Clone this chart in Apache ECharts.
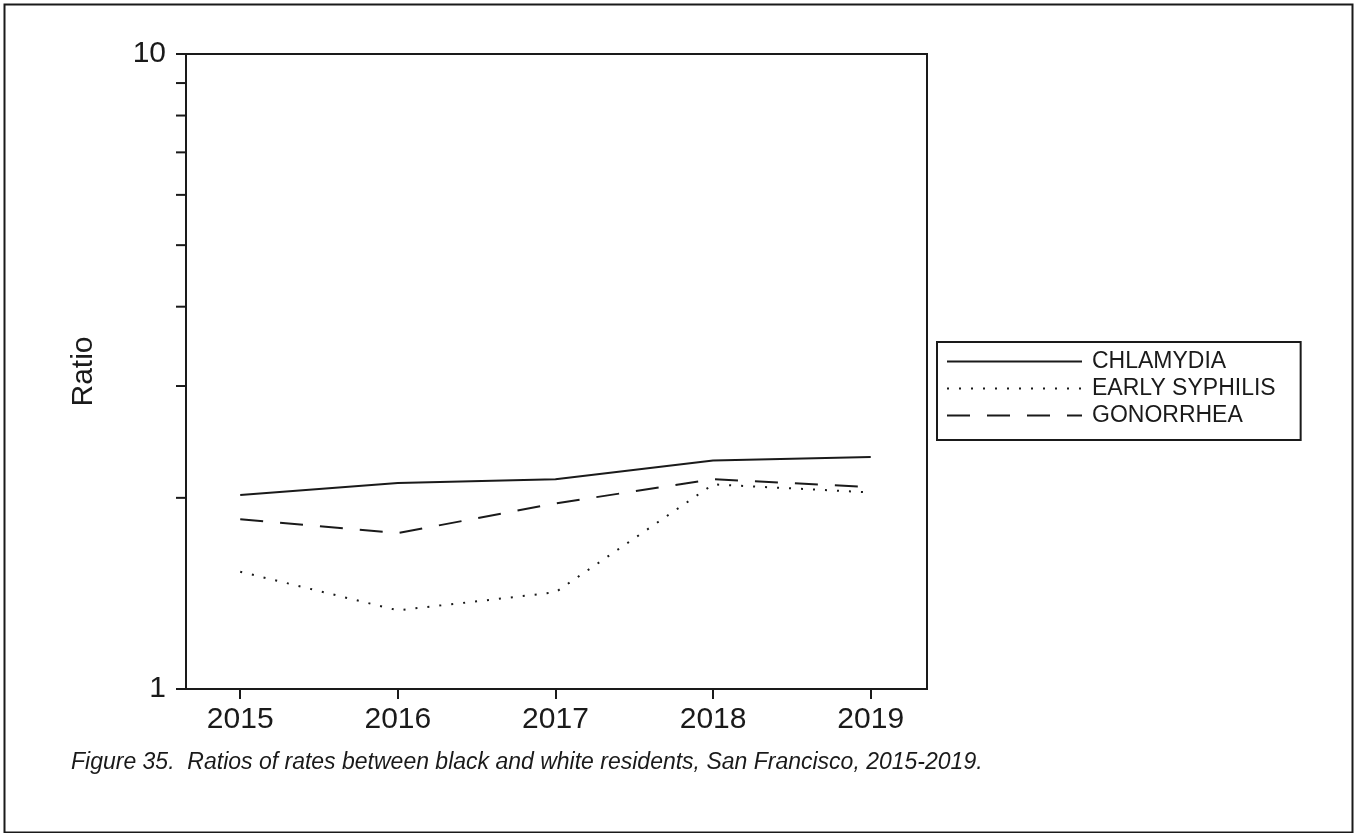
<!DOCTYPE html>
<html>
<head>
<meta charset="utf-8">
<script src="https://cdn.jsdelivr.net/npm/echarts@6/dist/echarts.min.js"></script>
<style>
html,body{margin:0;padding:0;background:#fff;}
#c{width:1356px;height:833px;}
</style>
</head>
<body>
<div id="c"></div>
<script>
const years = [2015, 2016, 2017, 2018, 2019];
const chlamydia = [2.02, 2.11, 2.14, 2.29, 2.32];
const earlySyphilis = [1.53, 1.33, 1.42, 2.10, 2.04];
const gonorrhea = [1.85, 1.76, 1.96, 2.14, 2.08];
const yMinorTicks = [2, 3, 4, 5, 6, 7, 8, 9];
const seriesNames = ['CHLAMYDIA', 'EARLY SYPHILIS', 'GONORRHEA'];
const caption = 'Figure 35.  Ratios of rates between black and white residents, San Francisco, 2015-2019.';

const FONT = "'Liberation Sans', Arial, Helvetica, sans-serif";
const INK = '#1a1a1a';
const pairs = arr => years.map((y, i) => [y, arr[i]]);

const chart = echarts.init(document.getElementById('c'), null, {renderer: 'canvas'});
chart.setOption({
  backgroundColor: '#fff',
  animation: false,
  textStyle: {fontFamily: FONT},
  graphic: [{
    type: 'rect', left: 2, top: 2, silent: true,
    shape: {width: 1348, height: 828},
    style: {fill: 'none', stroke: INK, lineWidth: 2}
  }],
  title: {
    text: caption, left: 66, top: 746,
    textStyle: {fontFamily: FONT, fontStyle: 'italic', fontWeight: 'normal', fontSize: 23, color: INK}
  },
  grid: {
    left: 186, top: 54, right: 429, bottom: 144,
    show: true, borderColor: INK, borderWidth: 2, backgroundColor: 'transparent'
  },
  legend: {
    orient: 'vertical', left: 937, top: 342,
    data: seriesNames,
    itemWidth: 135, itemHeight: 14, itemGap: 4,
    padding: [8, 25, 13, 9],
    borderColor: INK, borderWidth: 2,
    selectedMode: false,
    itemStyle: {opacity: 0, borderWidth: 0},
    textStyle: {fontFamily: FONT, fontSize: 23, color: INK, padding: [0, 0, 0, 5]}
  },
  xAxis: {
    type: 'value', min: 2014.656, max: 2019.357,
    splitLine: {show: false},
    axisLine: {lineStyle: {color: INK, width: 2}},
    axisTick: {customValues: years, length: 10, lineStyle: {color: INK, width: 2}},
    axisLabel: {customValues: years, margin: 16, fontSize: 30, color: INK, fontFamily: FONT,
      formatter: v => String(v)}
  },
  yAxis: {
    type: 'log', logBase: 10, min: 1, max: 10,
    name: 'Ratio', nameLocation: 'middle', nameGap: 87,
    nameTextStyle: {fontSize: 30, color: INK, fontFamily: FONT},
    splitLine: {show: false},
    axisLine: {show: true, lineStyle: {color: INK, width: 2}},
    axisTick: {show: true, length: 10, lineStyle: {color: INK, width: 2}},
    axisLabel: {margin: 20, fontSize: 30, color: INK, fontFamily: FONT}
  },
  series: [
    {
      name: 'CHLAMYDIA', type: 'line', data: pairs(chlamydia),
      symbol: 'none', color: INK,
      lineStyle: {color: INK, width: 2, type: 'solid'}
    },
    {
      name: 'EARLY SYPHILIS', type: 'line', data: pairs(earlySyphilis),
      symbol: 'none', color: INK,
      lineStyle: {color: INK, width: 2, type: [2, 10], cap: 'butt'}
    },
    {
      name: 'GONORRHEA', type: 'line', data: pairs(gonorrhea),
      symbol: 'none', color: INK,
      lineStyle: {color: INK, width: 2, type: [23, 17], cap: 'butt'}
    },
    {
      name: 'minorTicks', type: 'custom', silent: true, clip: false,
      data: yMinorTicks.map(v => [years[0], v]),
      encode: {x: 0, y: 1},
      renderItem: (params, api) => {
        const y = api.coord([api.value(0), api.value(1)])[1];
        const x0 = params.coordSys.x;
        return {
          type: 'line',
          shape: {x1: x0 - 10, y1: y, x2: x0, y2: y},
          style: {stroke: INK, lineWidth: 2}
        };
      }
    }
  ]
});
</script>
</body>
</html>
